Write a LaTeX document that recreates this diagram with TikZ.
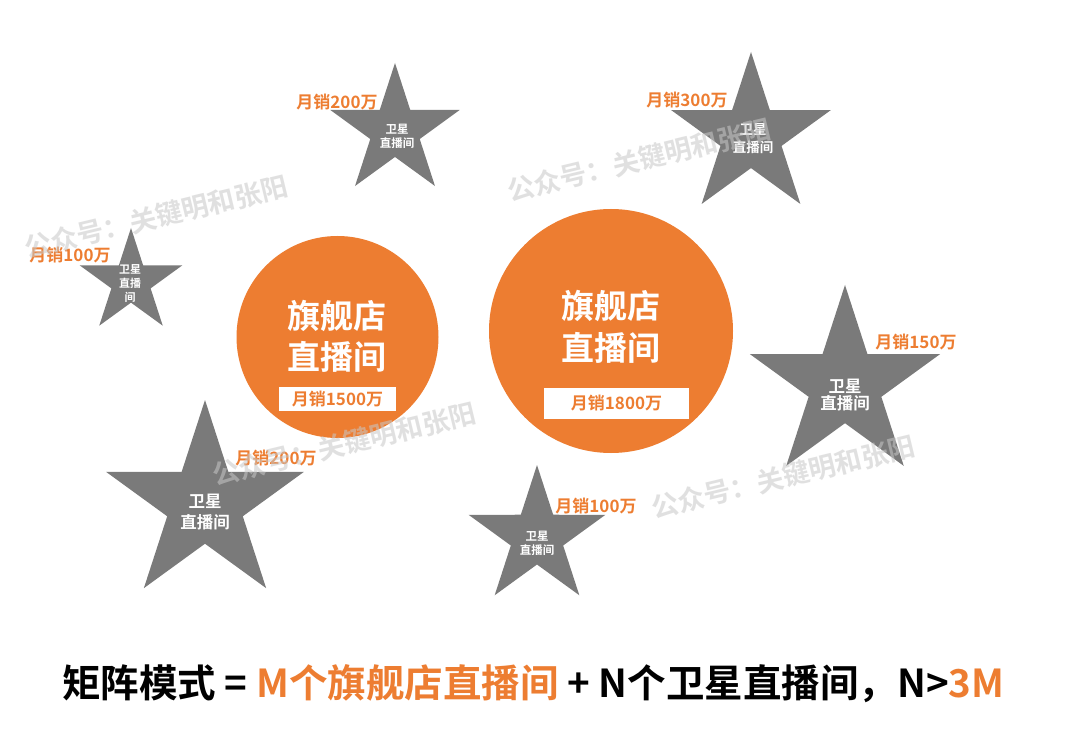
\documentclass[tikz,border=0pt]{standalone}
\usepackage{fontspec}
\setmainfont{Noto Sans CJK SC}[BoldFont={Noto Sans CJK SC Bold}]
\usetikzlibrary{calc}
\definecolor{org}{HTML}{ED7D31}
\definecolor{sgray}{HTML}{7A7A7A}
\definecolor{wmgray}{HTML}{C8C8C8}
\newcommand\fsz[2]{\fontsize{#1}{#2}\selectfont}
\newcommand\drawstar[4]{%
  \coordinate (#1) at (#2,#3);
  \fill[sgray] ($(#1)+(-90:#4)$) \foreach \a in {-90,-18,54,126,198}{ -- ($(#1)+(\a:#4)$) -- ($(#1)+(\a+36:0.382*#4)$)} -- cycle;
}
\tikzset{
  sales/.style={text=org, font=\bfseries\fsz{17}{20}, inner sep=0pt},
  stxt/.style={text=white, align=center, inner sep=0pt},
  ctxt/.style={text=white, align=center, inner sep=0pt, font=\bfseries\fsz{33}{41}},
  boxlab/.style={fill=white, text=org, font=\bfseries\fsz{17}{20}, inner sep=0pt},
  wm/.style={text=wmgray, opacity=0.55, font=\bfseries\fsz{27}{30}, inner sep=0pt, rotate=13.5},
  flag/.style={circle, fill=org, inner sep=0pt}
}
\begin{document}
\begin{tikzpicture}[x=1pt,y=-1pt]
\fill[white] (0,0) rectangle (1080,730);
\useasboundingbox (0,0) rectangle (1080,730);

% flagship circles
\node[flag, minimum size=202pt] (c1) at (337.5,337) {};
\node[flag, minimum size=244pt] (c2) at (611,331) {};
\node[ctxt] (c1t) at (336.5,336.5) {旗舰店\\直播间};
\node[ctxt, font=\bfseries\fsz{33}{42}] (c2t) at (611,327) {旗舰店\\直播间};
\node[boxlab, minimum width=117pt, minimum height=24pt] (b1) at (337.5,399) {月销1500万};
\node[boxlab, minimum width=145pt, minimum height=31pt] (b2) at (616.5,403.5) {月销1800万};

% satellite stars
\drawstar{s1}{131}{282}{54}
\drawstar{s2}{395}{131}{68}
\drawstar{s3}{751}{136}{84}
\drawstar{s4}{845}{385}{100}
\drawstar{s5}{205}{504}{104}
\drawstar{s6}{537}{537}{72}

\node[stxt, font=\bfseries\fsz{11}{14}] (s1t) at (130,284) {卫星\\直播\\间};
\node[stxt, font=\bfseries\fsz{11.5}{13.5}] (s2t) at (397,136.5) {卫星\\直播间};
\node[stxt, font=\bfseries\fsz{13.5}{18}] (s3t) at (753,139) {卫星\\直播间};
\node[stxt, font=\bfseries\fsz{16.5}{17}] (s4t) at (845,395) {卫星\\直播间};
\node[stxt, font=\bfseries\fsz{16.5}{21}] (s5t) at (205,512) {卫星\\直播间};
\node[stxt, font=\bfseries\fsz{11.5}{13.5}] (s6t) at (537,543.5) {卫星\\直播间};

% sales labels
\node[sales] (l1) at (70,255) {月销100万};
\node[sales] (l2) at (337,102) {月销200万};
\node[sales] (l3) at (687,100) {月销300万};
\node[sales] (l4) at (916,342) {月销150万};
\node[sales] (l5) at (276,458) {月销200万};
\node[sales] (l6) at (596,506) {月销100万};

% watermarks
\node[wm] (w1) at (156,217) {公众号：关键明和张阳};
\node[wm] (w2) at (639,160) {公众号：关键明和张阳};
\node[wm] (w3) at (344,444) {公众号：关键明和张阳};
\node[wm] (w4) at (783,477) {公众号：关键明和张阳};

% formula
\node[anchor=west, inner sep=0pt, font=\bfseries\fsz{38.5}{42}] (formula) at (62,684)
  {矩阵模式 = \textcolor{org}{M个旗舰店直播间} + N个卫星直播间，N>\textcolor{org}{3M}};
\end{tikzpicture}
\end{document}
